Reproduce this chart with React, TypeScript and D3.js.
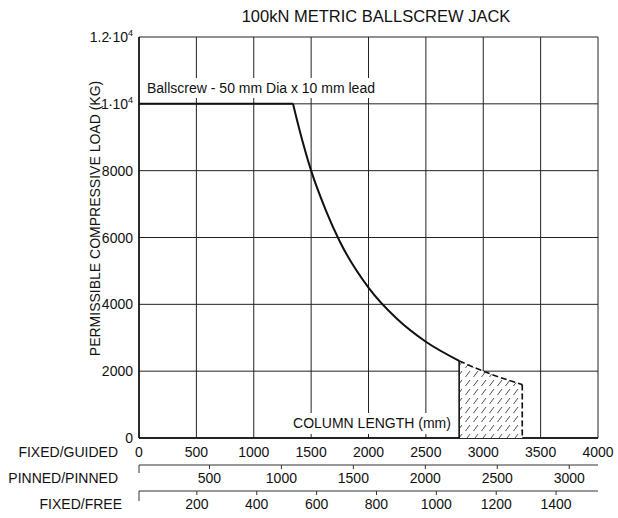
import React from "react";
import * as d3 from "d3";

const TITLE = "100kN METRIC BALLSCREW JACK";
const Y_TITLE = "PERMISSIBLE COMPRESSIVE LOAD (KG)";
const ANNOTATION = "Ballscrew - 50 mm Dia x 10 mm lead";
const X_TITLE = "COLUMN LENGTH (mm)";

// Main curve (fixed/guided column length vs permissible load)
const curveLength = [0, 1342, 1400, 1500, 1630, 1750, 2000, 2250, 2500, 2790];
const curveLoad = [10000, 10000, 9200, 8000, 6800, 5880, 4500, 3560, 2880, 2310];

// Dashed (hatched) extension
const dashLength = [2790, 2900, 3000, 3150, 3340];
const dashLoad = [2310, 2140, 2000, 1810, 1600];

const yTicks = [0, 2000, 4000, 6000, 8000, 10000, 12000];
const xTicksGuided = [0, 500, 1000, 1500, 2000, 2500, 3000, 3500, 4000];
const xTicksPinned = [500, 1000, 1500, 2000, 2500, 3000];
const xTicksFree = [200, 400, 600, 800, 1000, 1200, 1400];
const axisNames = ["FIXED/GUIDED", "PINNED/PINNED", "FIXED/FREE"];

const FONT = "'Liberation Sans', Arial, Helvetica, sans-serif";

export default function App() {
  const L = 139, R = 598, T = 37, B = 438;
  const x = d3.scaleLinear().domain([0, 4000]).range([L, R]);
  const y = d3.scaleLinear().domain([0, 12000]).range([B, T]);
  const xp = d3.scaleLinear().domain([0, 3200]).range([L - 1.5, R]);
  const xf = d3.scaleLinear().domain([0, 1540]).range([L - 2, R]);

  const pts = curveLength.map((l, i) => [l, curveLoad[i]] as [number, number]);
  const flat = d3.line<[number, number]>().x(d => x(d[0])).y(d => y(d[1]))(pts.slice(0, 2)) || "";
  const curve = d3.line<[number, number]>().x(d => x(d[0])).y(d => y(d[1])).curve(d3.curveMonotoneX)(pts.slice(1)) || "";
  const dpts = dashLength.map((l, i) => [l, dashLoad[i]] as [number, number]);
  const dashTop = d3.line<[number, number]>().x(d => x(d[0])).y(d => y(d[1])).curve(d3.curveMonotoneX)(dpts) || "";
  const x0 = x(dashLength[0]);
  const x1 = x(dashLength[dashLength.length - 1]);
  const hatchArea = d3.area<[number, number]>().x(d => x(d[0])).y0(y(0)).y1(d => y(d[1])).curve(d3.curveMonotoneX)(dpts) || "";

  const yLabel = (v: number) => {
    if (v === 12000) return (<><tspan>1.2</tspan><tspan dx="-1.5">·10</tspan><tspan dy="-6" fontSize="9">4</tspan></>);
    if (v === 10000) return (<><tspan>1</tspan><tspan dx="-0.5">·</tspan><tspan dx="-0.5">10</tspan><tspan dy="-6" fontSize="9">4</tspan></>);
    return <tspan>{v}</tspan>;
  };

  return (
    <svg width={618} height={518} style={{ position: "absolute", left: 0, top: 0, background: "#fff" }} fontFamily={FONT}>
      <defs>
        <pattern id="hatch" patternUnits="userSpaceOnUse" width={8} height={9}>
          <rect x={0} y={0} width={8} height={9} fill="#fff" />
          <path d="M1.5,8 L6,2" stroke="#222" strokeWidth={0.8} />
        </pattern>
      </defs>
      <rect x={0} y={0} width={618} height={518} fill="#fff" />
      <text x={376} y={21.5} textAnchor="middle" fontSize={16.5} fill="#111">{TITLE}</text>

      {/* grid */}
      {xTicksGuided.map(v => (
        <line key={"gx" + v} x1={x(v)} x2={x(v)} y1={T} y2={B} stroke="#222" strokeWidth={1} />
      ))}
      {yTicks.map(v => (
        <line key={"gy" + v} x1={L} x2={R} y1={y(v)} y2={y(v)} stroke="#222" strokeWidth={1} />
      ))}
      <line x1={L} x2={L} y1={T} y2={B} stroke="#000" strokeWidth={1.4} />
      <line x1={L} x2={R} y1={B} y2={B} stroke="#000" strokeWidth={1.4} />

      {/* annotation */}
      <rect x={145} y={78} width={236} height={20} fill="#fff" />
      <text x={147} y={93} fontSize={14} fill="#111">{ANNOTATION}</text>

      {/* hatched region */}
      <path d={hatchArea} fill="url(#hatch)" stroke="none" />
      <path d={dashTop} fill="none" stroke="#111" strokeWidth={1.6} strokeDasharray="6,3" />
      <line x1={x1} x2={x1} y1={y(dashLoad[dashLoad.length - 1])} y2={B} stroke="#111" strokeWidth={1.6} strokeDasharray="6,3" />
      <line x1={x0} x2={x0} y1={y(dashLoad[0])} y2={B} stroke="#111" strokeWidth={1.6} />

      {/* curve */}
      <path d={flat} fill="none" stroke="#111" strokeWidth={2} />
      <path d={curve} fill="none" stroke="#111" strokeWidth={2} />

      {/* x title */}
      <rect x={289} y={413} width={166} height={21} fill="#fff" />
      <text x={372} y={428} textAnchor="middle" fontSize={14} fill="#111">{X_TITLE}</text>

      {/* y ticks */}
      {yTicks.map(v => (
        <text key={"yl" + v} x={133} y={y(v) + 5} textAnchor="end" fontSize={14} fill="#111">{yLabel(v)}</text>
      ))}
      <text transform={`translate(100,${218.5}) rotate(-90)`} textAnchor="middle" fontSize={14} fill="#111">{Y_TITLE}</text>

      {/* fixed/guided axis */}
      <text x={118} y={457} textAnchor="end" fontSize={14} fill="#111">{axisNames[0]}</text>
      {xTicksGuided.map(v => (
        <text key={"xg" + v} x={x(v)} y={457} textAnchor="middle" fontSize={14} fill="#111">{v}</text>
      ))}

      {/* pinned/pinned axis */}
      <line x1={L} x2={R} y1={465} y2={465} stroke="#333" strokeWidth={1} />
      <line x1={L} x2={L} y1={465} y2={473} stroke="#333" strokeWidth={1} />
      {xTicksPinned.map(v => (
        <g key={"xp" + v}>
          <line x1={xp(v)} x2={xp(v)} y1={465} y2={469} stroke="#333" strokeWidth={1} />
          <text x={xp(v)} y={483} textAnchor="middle" fontSize={14} fill="#111">{v}</text>
        </g>
      ))}
      <text x={118} y={483} textAnchor="end" fontSize={14} fill="#111">{axisNames[1]}</text>

      {/* fixed/free axis */}
      <line x1={L} x2={R} y1={491} y2={491} stroke="#333" strokeWidth={1} />
      <line x1={L} x2={L} y1={491} y2={501} stroke="#333" strokeWidth={1} />
      {xTicksFree.map(v => (
        <g key={"xf" + v}>
          <line x1={xf(v)} x2={xf(v)} y1={491} y2={495} stroke="#333" strokeWidth={1} />
          <text x={xf(v)} y={509} textAnchor="middle" fontSize={14} fill="#111">{v}</text>
        </g>
      ))}
      <text x={122} y={509} textAnchor="end" fontSize={14} fill="#111">{axisNames[2]}</text>
    </svg>
  );
}
